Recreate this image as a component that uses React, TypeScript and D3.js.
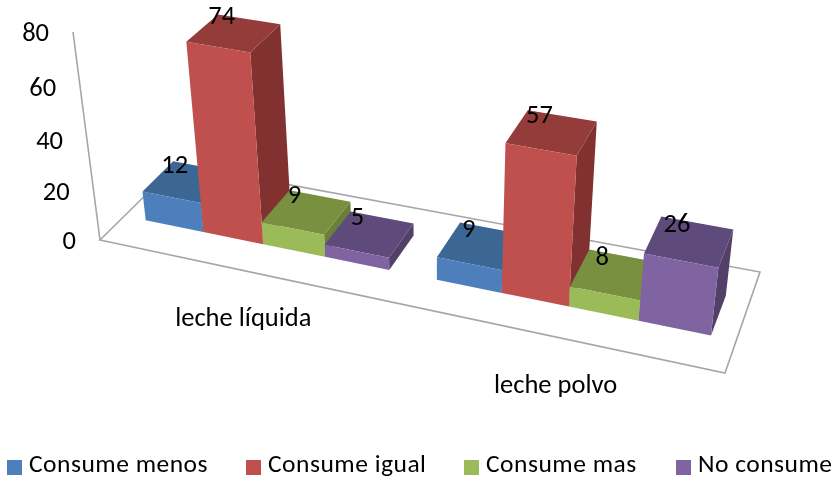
import React from "react";
import * as d3 from "d3";

const categories = ["leche líquida", "leche polvo"];
const seriesNames = ["Consume menos", "Consume igual", "Consume mas", "No consume"];
const consumeMenos = [12, 9];
const consumeIgual = [74, 57];
const consumeMas = [9, 8];
const noConsume = [5, 26];
const seriesValues = [consumeMenos, consumeIgual, consumeMas, noConsume];
const valueTicks = [0, 20, 40, 60, 80];

const frontColors = ["#4c7fbc", "#c0504d", "#9bbb59", "#8064a2"];
const topColors = ["#3c6694", "#943c3a", "#78903f", "#5f4a7c"];
const sideColors = ["#335a85", "#803130", "#688038", "#524069"];
const legendX = [7, 246, 464, 676];

const W = 833;
const H = 479;
const FONT = "Carlito, Calibri, Lato, sans-serif";
const FS = 26.5;

// projective camera fitted on the floor and axis corners
type P = [number, number];
const A: P = [100, 240];
const B: P = [725, 373];
const C: P = [760, 272];
const D: P = [177, 164];
const T: P = [73, 32];
const wu = -0.16;
const wv = 0.0816;
const wh = -0.074;
const col = (Q: P, w: number): P => [Q[0] * (1 + w) - A[0], Q[1] * (1 + w) - A[1]];
const cu = col(B, wu);
const cv = col(D, wv);
const ch = col(T, wh);
const hScale = d3.scaleLinear().domain([0, 80]).range([0, 1]);
const project = (u: number, v: number, value: number): P => {
  const h = hScale(value) * (1 - 0.05 * u);
  const w = 1 + u * wu + v * wv + h * wh;
  return [
    (A[0] + u * cu[0] + v * cv[0] + h * ch[0]) / w,
    (A[1] + u * cu[1] + v * cv[1] + h * ch[1]) / w,
  ];
};

const groupStart = d3.scaleOrdinal<string, number>().domain(categories).range([0.041, 0.553]);
const groupWidth = d3.scaleOrdinal<string, number>().domain(categories).range([0.434, 0.412]);
const V0 = 0.3;
const V1 = 0.7;
const line = d3.line<P>();
const poly = (pts: P[]) => line(pts) + "Z";

export default function App() {
  const bars = categories.flatMap((cat, ci) =>
    seriesNames.map((_, si) => {
      const bw = groupWidth(cat) / seriesNames.length;
      const u0 = groupStart(cat) + si * bw;
      const u1 = u0 + bw;
      const val = seriesValues[si][ci];
      return { key: `${ci}-${si}`, si, val, u0, u1 };
    })
  );
  return (
    <svg
      width={W}
      height={H}
      style={{ position: "absolute", left: 0, top: 0, background: "#fff", filter: "blur(0.45px)" }}
      fontFamily={FONT}
      fontSize={FS}
      fill="#000"
    >
      <path d={poly([A, B, C, D])} fill="none" stroke="#a6a6a6" strokeWidth={1.6} />
      <path d={line([T, A]) ?? ""} fill="none" stroke="#a6a6a6" strokeWidth={1.6} />
      {valueTicks.map((t) => {
        const [x, y] = project(0, 0, t);
        return (
          <text key={t} x={x - 24} y={y} textAnchor="end" dominantBaseline="central">
            {t}
          </text>
        );
      })}
      {bars.map((b) => (
        <g key={b.key}>
          <path
            d={poly([project(b.u1, V0, 0), project(b.u1, V1, 0), project(b.u1, V1, b.val), project(b.u1, V0, b.val)])}
            fill={sideColors[b.si]}
          />
          <path
            d={poly([project(b.u0, V0, b.val), project(b.u1, V0, b.val), project(b.u1, V1, b.val), project(b.u0, V1, b.val)])}
            fill={topColors[b.si]}
          />
          <path
            d={poly([project(b.u0, V0, 0), project(b.u1, V0, 0), project(b.u1, V0, b.val), project(b.u0, V0, b.val)])}
            fill={frontColors[b.si]}
          />
        </g>
      ))}
      {bars.map((b) => {
        const [x, y] = project((b.u0 + b.u1) / 2, 0.5, b.val);
        return (
          <text key={b.key} x={x - 12} y={y - 18} textAnchor="middle" dominantBaseline="central">
            {b.val}
          </text>
        );
      })}
      {categories.map((cat) => {
        const [x, y] = project(groupStart(cat) + groupWidth(cat) / 2, 0, 0);
        return (
          <text key={cat} x={x + 2} y={y + 47} textAnchor="middle" dominantBaseline="central">
            {cat}
          </text>
        );
      })}
      {seriesNames.map((name, i) => (
        <g key={name}>
          <rect x={legendX[i]} y={460} width={15} height={15} fill={frontColors[i]} />
          <text
            x={legendX[i] + 22}
            y={463.5}
            fontSize={25.5}
            letterSpacing={0.5}
            dominantBaseline="central"
          >
            {name}
          </text>
        </g>
      ))}
    </svg>
  );
}
